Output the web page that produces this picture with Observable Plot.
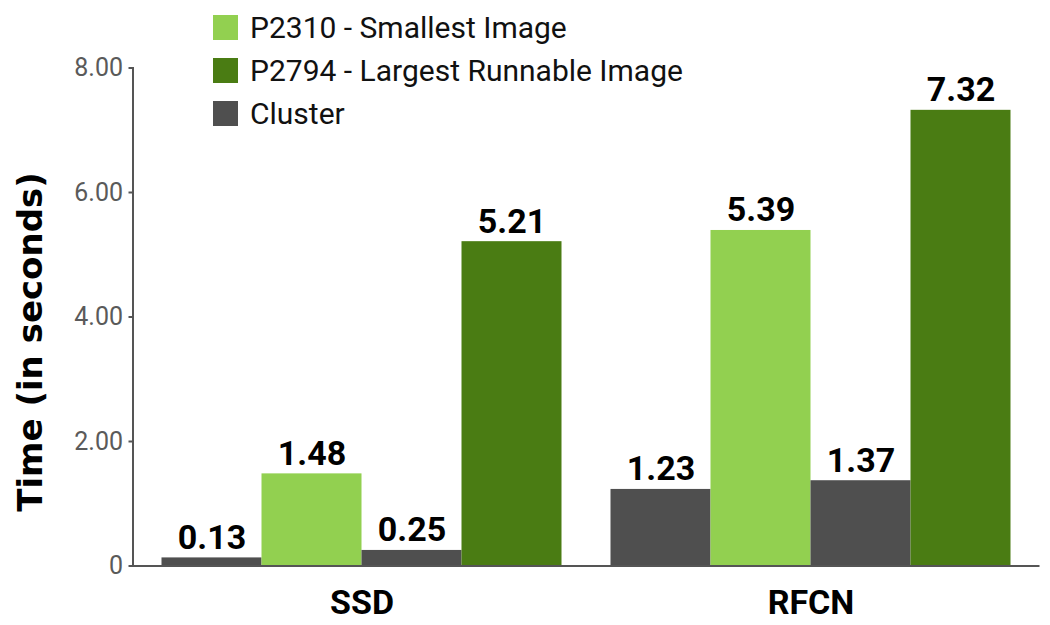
<!DOCTYPE html>
<html>
<head>
<meta charset="utf-8">
<script src="https://cdn.jsdelivr.net/npm/d3@7"></script>
<script src="https://cdn.jsdelivr.net/npm/@observablehq/plot@0.6"></script>
<style>
  html, body { margin: 0; padding: 0; background: #fff; }
  #wrap { position: relative; width: 1050px; height: 625px; font-family: Roboto, sans-serif; }
  #legend { position: absolute; left: 213px; top: 15px; }
  .row { display: flex; align-items: center; height: 25px; margin-bottom: 18px; }
  .sw { width: 25px; height: 25px; margin-right: 12px; }
  .lab { font-size: 30px; color: #111; line-height: 25px; white-space: nowrap; }
</style>
</head>
<body>
<div id="wrap"><div id="legend"></div></div>
<script>
const groups = ["SSD", "RFCN"];
const slots = ["cluster-small", "p2310", "cluster-large", "p2794"];
const slotSeries = ["Cluster", "P2310 - Smallest Image", "Cluster", "P2794 - Largest Runnable Image"];
const ssdValues = [0.13, 1.48, 0.25, 5.21];
const rfcnValues = [1.23, 5.39, 1.37, 7.32];
const legendSeries = ["P2310 - Smallest Image", "P2794 - Largest Runnable Image", "Cluster"];
const seriesColors = ["#92d050", "#4a7c13", "#4f4f4f"];
const yTicks = [0, 2, 4, 6, 8];
const yLabel = "Time (in seconds)";

const data = [];
[ssdValues, rfcnValues].forEach((vals, gi) => {
  vals.forEach((v, i) => data.push({group: groups[gi], slot: slots[i], series: slotSeries[i], value: v}));
});

const chart = Plot.plot({
  width: 1050,
  height: 625,
  marginLeft: 136.5,
  marginRight: 15.5,
  marginTop: 67.5,
  marginBottom: 59.5,
  style: {fontFamily: "Roboto, sans-serif", background: "#fff", overflow: "visible"},
  fx: {domain: groups, padding: 0, label: null},
  x: {domain: slots, paddingInner: 0, paddingOuter: 0.245, axis: null},
  y: {domain: [0, 8], label: null},
  color: {domain: legendSeries, range: seriesColors},
  marks: [
    Plot.barY(data, {fx: "group", x: "slot", y: "value", fill: "series"}),
    Plot.text(data, {fx: "group", x: "slot", y: "value", text: d => d.value.toFixed(2),
      lineAnchor: "bottom", dy: -9, fontSize: 34, fontWeight: "bold", fill: "#000"}),
    Plot.ruleY([0], {stroke: "#555", strokeWidth: 2, insetLeft: -4.5, insetRight: -4.5}),
    Plot.frame({anchor: "left", stroke: "#555", strokeWidth: 2, dx: -4.5, facetAnchor: "left"}),
    Plot.axisY({ticks: yTicks, tickFormat: d => d === 0 ? "0" : d.toFixed(2), tickSize: 4, tickPadding: 6,
      dx: -4.5, fontSize: 25, color: "#5a5a5a", stroke: "#555", strokeWidth: 2, label: null}),
    Plot.axisFx({anchor: "bottom", tickSize: 0, tickPadding: 24, fontSize: 34, fontWeight: "bold", fill: "#000", label: null}),
    Plot.text([{g: "SSD"}], {fx: "g", text: () => yLabel, frameAnchor: "left", rotate: -90,
      dx: -106.5, dy: 25, fontSize: 34, fontWeight: "bold", fontFamily: "DejaVu Sans", fill: "#000", textAnchor: "middle"})
  ]
});
document.getElementById("wrap").prepend(chart);

const legend = d3.select("#legend");
legendSeries.forEach((s, i) => {
  const row = legend.append("div").attr("class", "row");
  row.append("div").attr("class", "sw").style("background", seriesColors[i]);
  row.append("div").attr("class", "lab").text(s);
});
</script>
</body>
</html>
